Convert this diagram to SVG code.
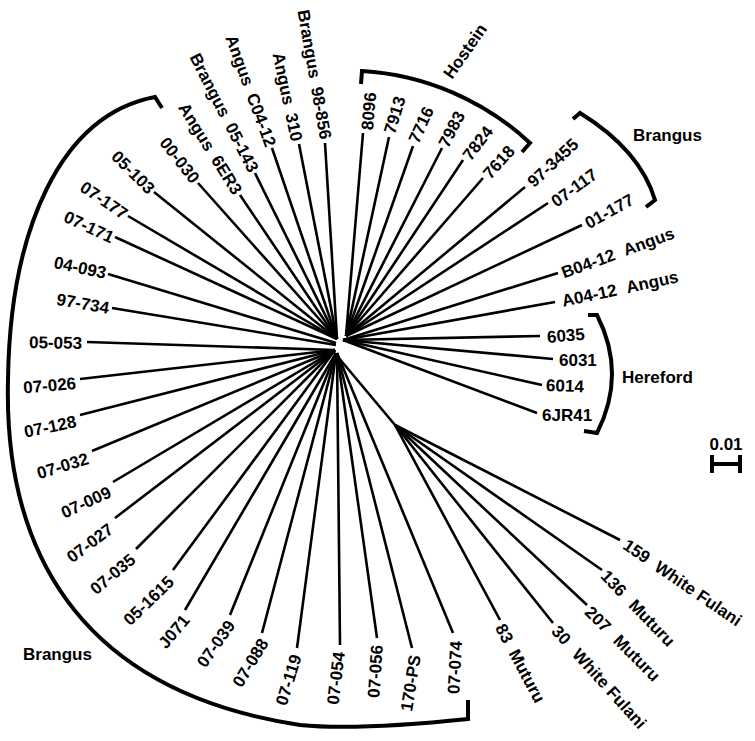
<svg xmlns="http://www.w3.org/2000/svg" width="755" height="741" viewBox="0 0 755 741">
<style>
.t{font-family:"Liberation Sans",Arial,sans-serif;font-weight:bold;font-size:17px;fill:#000}
.e{text-anchor:end}
.br{fill:none;stroke:#000;stroke-width:4}
#connectors line{stroke:#000;stroke-width:2.6}
</style>
<rect width="755" height="741" fill="#fff"/>
<g id="connectors">
<line x1="337" y1="339" x2="325" y2="143"/>
<line x1="337" y1="339" x2="299" y2="144"/>
<line x1="337" y1="339" x2="272" y2="148"/>
<line x1="337" y1="339" x2="255" y2="173"/>
<line x1="337" y1="339" x2="240" y2="195"/>
<line x1="337" y1="339" x2="198" y2="183"/>
<line x1="337" y1="339" x2="154" y2="192"/>
<line x1="337" y1="339" x2="128" y2="216"/>
<line x1="337" y1="339" x2="115" y2="237"/>
<line x1="336" y1="343" x2="108" y2="274"/>
<line x1="336" y1="345" x2="112" y2="308"/>
<line x1="335" y1="350" x2="87" y2="342"/>
<line x1="335" y1="350" x2="80" y2="379"/>
<line x1="335" y1="350" x2="80" y2="415"/>
<line x1="335" y1="350" x2="92" y2="451"/>
<line x1="335" y1="350" x2="113" y2="482"/>
<line x1="335" y1="350" x2="115" y2="518"/>
<line x1="335" y1="350" x2="136" y2="549"/>
<line x1="335" y1="350" x2="173" y2="570"/>
<line x1="336" y1="353" x2="185" y2="610"/>
<line x1="336" y1="353" x2="230" y2="615"/>
<line x1="336" y1="353" x2="262" y2="633"/>
<line x1="336" y1="353" x2="297" y2="648"/>
<line x1="337" y1="353" x2="340" y2="645"/>
<line x1="337" y1="353" x2="377" y2="638"/>
<line x1="337" y1="353" x2="412" y2="648"/>
<line x1="337" y1="353" x2="453" y2="633"/>
<line x1="346" y1="336" x2="363" y2="133"/>
<line x1="346" y1="336" x2="389" y2="137"/>
<line x1="346" y1="336" x2="413" y2="146"/>
<line x1="346" y1="336" x2="442" y2="148"/>
<line x1="346" y1="336" x2="463" y2="160"/>
<line x1="346" y1="336" x2="483" y2="178"/>
<line x1="346" y1="336" x2="525" y2="187"/>
<line x1="346" y1="336" x2="548" y2="203"/>
<line x1="346" y1="336" x2="582" y2="225"/>
<line x1="343" y1="340" x2="558" y2="273"/>
<line x1="343" y1="340" x2="555" y2="302"/>
<line x1="343" y1="340" x2="540" y2="336"/>
<line x1="343" y1="340" x2="553" y2="359"/>
<line x1="343" y1="340" x2="542" y2="385"/>
<line x1="343" y1="340" x2="537" y2="413"/>
<line x1="338" y1="357" x2="395" y2="425"/>
<line x1="395" y1="425" x2="620" y2="540"/>
<line x1="395" y1="425" x2="602" y2="570"/>
<line x1="395" y1="425" x2="587" y2="605"/>
<line x1="395" y1="425" x2="553" y2="623"/>
<line x1="395" y1="425" x2="500" y2="620"/>
</g>
<g id="brackets">
<path class="br" d="M361,84 L362,71 A270,270 0 0 1 530,143 L522,152"/>
<path class="br" d="M573,119 L580,113 Q640,150 655,200 L646,207"/>
<path class="br" d="M588,315 L597,315 Q627,374 597,433 L584,431"/>
<path class="br" d="M162,108 L155,97 C60,115 10,230 8,380 C4,540 70,690 300,725 C350,730 420,724 468,719 L468,700"/>
</g>
<g id="scale">
<path d="M712,455 V473 M712,464 H740 M740,455 V473" fill="none" stroke="#000" stroke-width="4"/>
<text class="t" x="726" y="450" text-anchor="middle" font-size="16">0.01</text>
</g>
<g id="group-labels">
<text class="t" x="452" y="80" transform="rotate(-55 452 80)">Hostein</text>
<text class="t" x="633" y="141">Brangus</text>
<text class="t" x="622" y="383">Hereford</text>
<text class="t" x="23" y="660">Brangus</text>
</g>
<g id="n-98-856"><text class="t e" x="326" y="139" dy=".35em" transform="rotate(80 326 139)">Brangus<tspan dx="9">98-856</tspan></text></g>
<g id="n-310"><text class="t e" x="297" y="141" dy=".35em" transform="rotate(78 297 141)">Angus<tspan dx="9">310</tspan></text></g>
<g id="n-C04-12"><text class="t e" x="271" y="146" dy=".35em" transform="rotate(70 271 146)">Angus<tspan dx="9">C04-12</tspan></text></g>
<g id="n-05-143"><text class="t e" x="254" y="171" dy=".35em" transform="rotate(63 254 171)">Brangus<tspan dx="9">05-143</tspan></text></g>
<g id="n-6ER3"><text class="t e" x="238" y="193" dy=".35em" transform="rotate(58 238 193)">Angus<tspan dx="9">6ER3</tspan></text></g>
<g id="n-00-030"><text class="t e" x="196" y="181" dy=".35em" transform="rotate(52 196 181)">00-030</text></g>
<g id="n-05-103"><text class="t e" x="152" y="191" dy=".35em" transform="rotate(45 152 191)">05-103</text></g>
<g id="n-07-177"><text class="t e" x="126" y="215" dy=".35em" transform="rotate(34 126 215)">07-177</text></g>
<g id="n-07-171"><text class="t e" x="113" y="238" dy=".35em" transform="rotate(25 113 238)">07-171</text></g>
<g id="n-04-093"><text class="t e" x="106" y="273" dy=".35em" transform="rotate(12 106 273)">04-093</text></g>
<g id="n-97-734"><text class="t e" x="109" y="308" dy=".35em" transform="rotate(10 109 308)">97-734</text></g>
<g id="n-05-053"><text class="t e" x="82" y="343" dy=".35em" transform="rotate(1 82 343)">05-053</text></g>
<g id="n-07-026"><text class="t e" x="76" y="383" dy=".35em" transform="rotate(-5 76 383)">07-026</text></g>
<g id="n-07-128"><text class="t e" x="76" y="421" dy=".35em" transform="rotate(-12 76 421)">07-128</text></g>
<g id="n-07-032"><text class="t e" x="88" y="458" dy=".35em" transform="rotate(-17 88 458)">07-032</text></g>
<g id="n-07-009"><text class="t e" x="110" y="491" dy=".35em" transform="rotate(-25 110 491)">07-009</text></g>
<g id="n-07-027"><text class="t e" x="111" y="527" dy=".35em" transform="rotate(-37 111 527)">07-027</text></g>
<g id="n-07-035"><text class="t e" x="133" y="557" dy=".35em" transform="rotate(-40 133 557)">07-035</text></g>
<g id="n-05-1615"><text class="t e" x="171" y="579" dy=".35em" transform="rotate(-44 171 579)">05-1615</text></g>
<g id="n-J071"><text class="t e" x="186" y="617" dy=".35em" transform="rotate(-50 186 617)">J071</text></g>
<g id="n-07-039"><text class="t e" x="231" y="622" dy=".35em" transform="rotate(-55 231 622)">07-039</text></g>
<g id="n-07-088"><text class="t e" x="264" y="640" dy=".35em" transform="rotate(-59 264 640)">07-088</text></g>
<g id="n-07-119"><text class="t e" x="296" y="655" dy=".35em" transform="rotate(-73 296 655)">07-119</text></g>
<g id="n-07-054"><text class="t e" x="339" y="652" dy=".35em" transform="rotate(-83 339 652)">07-054</text></g>
<g id="n-07-056"><text class="t e" x="377" y="645" dy=".35em" transform="rotate(-86 377 645)">07-056</text></g>
<g id="n-170-PS"><text class="t e" x="415" y="655" dy=".35em" transform="rotate(-81 415 655)">170-PS</text></g>
<g id="n-07-074"><text class="t e" x="456" y="641" dy=".35em" transform="rotate(-87 456 641)">07-074</text></g>
<g id="n-8096"><text class="t" x="367" y="130" dy=".35em" transform="rotate(-85 367 130)">8096</text></g>
<g id="n-7913"><text class="t" x="389" y="133" dy=".35em" transform="rotate(-73 389 133)">7913</text></g>
<g id="n-7716"><text class="t" x="413" y="142" dy=".35em" transform="rotate(-65 413 142)">7716</text></g>
<g id="n-7983"><text class="t" x="443" y="146" dy=".35em" transform="rotate(-63 443 146)">7983</text></g>
<g id="n-7824"><text class="t" x="466" y="158" dy=".35em" transform="rotate(-52 466 158)">7824</text></g>
<g id="n-7618"><text class="t" x="486" y="176" dy=".35em" transform="rotate(-48 486 176)">7618</text></g>
<g id="n-97-3455"><text class="t" x="530" y="184" dy=".35em" transform="rotate(-43 530 184)">97-3455</text></g>
<g id="n-07-117"><text class="t" x="553" y="203" dy=".35em" transform="rotate(-36 553 203)">07-117</text></g>
<g id="n-01-177"><text class="t" x="586" y="224" dy=".35em" transform="rotate(-29 586 224)">01-177</text></g>
<g id="n-B04-12"><text class="t" x="562" y="273" dy=".35em" transform="rotate(-20 562 273)">B04-12<tspan dx="10">Angus</tspan></text></g>
<g id="n-A04-12"><text class="t" x="562" y="301" dy=".35em" transform="rotate(-12 562 301)">A04-12<tspan dx="10">Angus</tspan></text></g>
<g id="n-6035"><text class="t" x="547" y="337" dy=".35em" transform="rotate(-5 547 337)">6035</text></g>
<g id="n-6031"><text class="t" x="559" y="360" dy=".35em">6031</text></g>
<g id="n-6014"><text class="t" x="546" y="385" dy=".35em" transform="rotate(2 546 385)">6014</text></g>
<g id="n-6JR41"><text class="t" x="542" y="415" dy=".35em">6JR41</text></g>
<g id="n-159"><text class="t" x="625" y="543" dy=".35em" transform="rotate(34.5 625 543)">159<tspan dx="10">White Fulani</tspan></text></g>
<g id="n-136"><text class="t" x="604" y="573" dy=".35em" transform="rotate(46 604 573)">136<tspan dx="12">Muturu</tspan></text></g>
<g id="n-207"><text class="t" x="588" y="609" dy=".35em" transform="rotate(45 588 609)">207<tspan dx="12">Muturu</tspan></text></g>
<g id="n-30"><text class="t" x="555" y="628" dy=".35em" transform="rotate(48 555 628)">30<tspan dx="12">White Fulani</tspan></text></g>
<g id="n-83"><text class="t" x="500" y="625" dy=".35em" transform="rotate(62 500 625)">83<tspan dx="10">Muturu</tspan></text></g>
</svg>
